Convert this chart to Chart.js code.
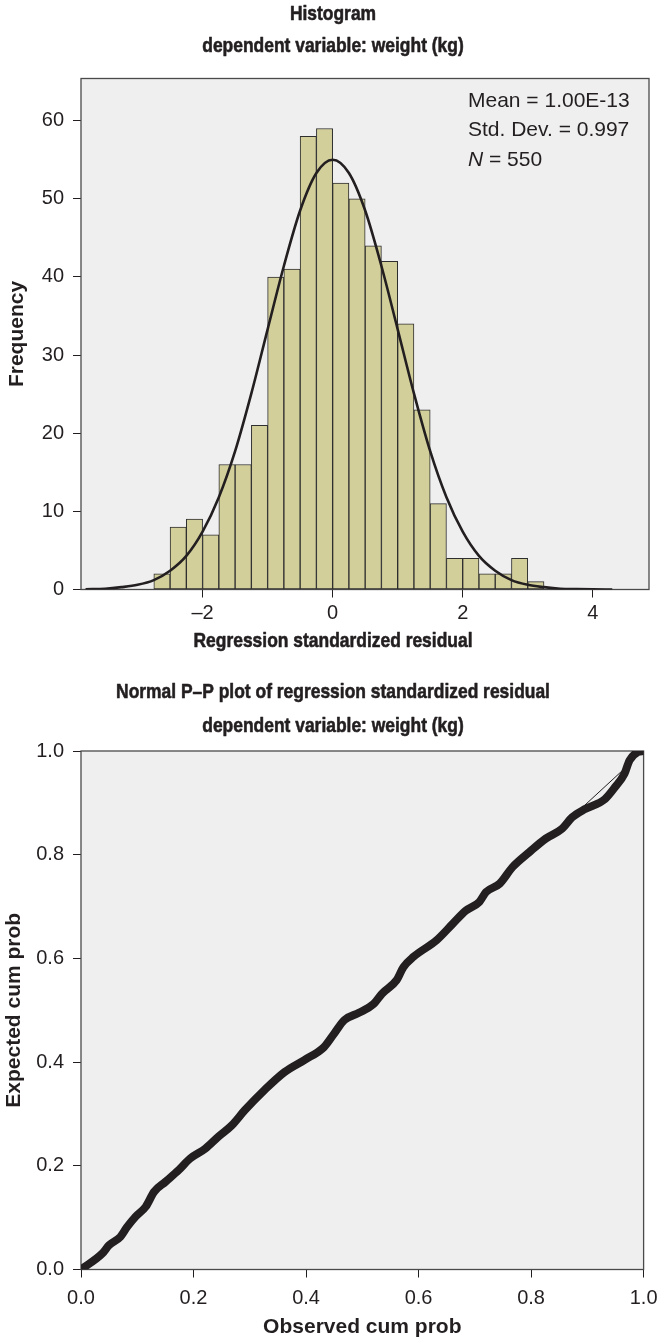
<!DOCTYPE html>
<html>
<head>
<meta charset="utf-8">
<script src="https://cdn.jsdelivr.net/npm/chart.js@4.4.1/dist/chart.umd.min.js"></script>
<style>
  html, body { margin: 0; padding: 0; background: #ffffff; }
  #wrap { position: relative; width: 666px; height: 1341px; }
  canvas { position: absolute; left: 0; }
  #hist { top: 0; }
  #pp { top: 660px; }
</style>
</head>
<body>
<div id="wrap">
  <canvas id="hist" width="666" height="660"></canvas>
  <canvas id="pp" width="666" height="681"></canvas>
</div>
<script>
// ---- Histogram of standardized residuals ----
const binLower = [-2.75, -2.5, -2.25, -2.0, -1.75, -1.5, -1.25, -1.0, -0.75, -0.5, -0.25, 0.0,
                  0.25, 0.5, 0.75, 1.0, 1.25, 1.5, 1.75, 2.0, 2.25, 2.5, 2.75, 3.0];
const binWidth = 0.25;
const frequency = [2, 8, 9, 7, 16, 16, 21, 40, 41, 58, 59, 52,
                   50, 44, 42, 34, 23, 11, 4, 4, 2, 2, 4, 1];

// fitted normal curve (scaled to counts)
const normalX = [-3.8, -3.5, -3.25, -3.0, -2.75, -2.5, -2.25, -2.0, -1.75, -1.5, -1.25, -1.0,
                 -0.75, -0.5, -0.25, 0.0, 0.25, 0.5, 0.75, 1.0, 1.25, 1.5, 1.75, 2.0,
                 2.25, 2.5, 2.75, 3.0, 3.25, 3.5, 3.75, 4.0, 4.3];
const normalY = [0.04, 0.1, 0.3, 0.6, 1.2, 2.4, 4.3, 7.4, 11.8, 17.7, 25.1, 33.3,
                 41.4, 48.5, 53.3, 55.0, 53.3, 48.5, 41.4, 33.3, 25.1, 17.7, 11.8, 7.4,
                 4.3, 2.4, 1.2, 0.6, 0.3, 0.1, 0.05, 0.02, 0.0];

const histXTicks = [-2, 0, 2, 4];
const histYTicks = [0, 10, 20, 30, 40, 50, 60];

const statNames = ['Mean', 'Std. Dev.', 'N'];
const statValues = ['1.00E-13', '0.997', '550'];

const histTitle = ['Histogram', 'dependent variable: weight (kg)'];
const histXTitle = 'Regression standardized residual';

// ---- Normal P-P plot ----
const ppObserved = [0.0, 0.038, 0.05, 0.07, 0.082, 0.097, 0.115, 0.13, 0.15, 0.174, 0.194,
                    0.221, 0.244, 0.268, 0.291, 0.326, 0.362, 0.397, 0.432, 0.45, 0.468,
                    0.494, 0.52, 0.535, 0.561, 0.573, 0.591, 0.632, 0.661, 0.684, 0.708,
                    0.72, 0.744, 0.767, 0.797, 0.826, 0.855, 0.873, 0.896, 0.931, 0.949,
                    0.966, 0.975, 0.99, 1.0];
const ppExpected = [0.0, 0.031, 0.047, 0.063, 0.082, 0.102, 0.121, 0.15, 0.169, 0.192, 0.214,
                    0.233, 0.256, 0.278, 0.307, 0.346, 0.381, 0.404, 0.429, 0.455, 0.481,
                    0.495, 0.512, 0.532, 0.558, 0.583, 0.603, 0.635, 0.667, 0.692, 0.709,
                    0.728, 0.744, 0.776, 0.805, 0.831, 0.85, 0.872, 0.888, 0.907, 0.93,
                    0.956, 0.982, 0.998, 1.0];
// short stretch of the y = x reference line showing beside the curve
const refSegment = [0.865, 0.968];
const ppTicks = [0, 0.2, 0.4, 0.6, 0.8, 1.0];
const ppTitle = ['Normal P\u2013P plot of regression standardized residual', 'dependent variable: weight (kg)'];

// ---- shared styling ----
const ink = '#231f20';
const family = '"Liberation Sans", Arial, Helvetica, sans-serif';
const panelFill = '#efefef';

const plotFrame = {
  id: 'plotFrame',
  beforeDraw(chart) {
    const { ctx, chartArea: a } = chart;
    ctx.save();
    ctx.fillStyle = panelFill;
    ctx.fillRect(a.left, a.top, a.right - a.left, a.bottom - a.top);
    ctx.restore();
  },
  beforeDatasetsDraw(chart) {
    const { ctx, chartArea: a } = chart;
    ctx.save();
    ctx.strokeStyle = '#4a4a4a';
    ctx.lineWidth = 1.3;
    ctx.strokeRect(a.left, a.top, a.right - a.left, a.bottom - a.top);
    ctx.restore();
  }
};

// bold headings set in a horizontally condensed, slightly heavier face
const condensedText = {
  id: 'condensedText',
  afterDraw(chart, args, opts) {
    const ctx = chart.ctx;
    ctx.save();
    ctx.fillStyle = ink;
    ctx.strokeStyle = ink;
    ctx.lineWidth = 0.6;
    ctx.lineJoin = 'round';
    ctx.textAlign = 'center';
    ctx.textBaseline = 'middle';
    ctx.font = 'bold 21px ' + family;
    (opts.items || []).forEach((it) => {
      ctx.save();
      ctx.translate(it.x, it.y);
      ctx.scale(0.83, 1);
      ctx.fillText(it.text, 0, 0);
      ctx.strokeText(it.text, 0, 0);
      ctx.restore();
    });
    ctx.restore();
  }
};

const statsBox = {
  id: 'statsBox',
  afterDatasetsDraw(chart) {
    const { ctx, chartArea: a } = chart;
    ctx.save();
    ctx.fillStyle = ink;
    ctx.textAlign = 'left';
    ctx.textBaseline = 'middle';
    const x = a.right - 181;
    statNames.forEach((name, i) => {
      const y = a.top + 23 + i * 29.2;
      ctx.font = (name === 'N' ? 'italic ' : '') + '21px ' + family;
      ctx.fillText(name, x, y);
      const w = ctx.measureText(name).width;
      ctx.font = '21px ' + family;
      ctx.fillText(' = ' + statValues[i], x + w, y);
    });
    ctx.restore();
  }
};

function fixedTicks(list) {
  return (scale) => { scale.ticks = list.map(v => ({ value: v })); };
}

const tickGrid = { drawOnChartArea: false, drawTicks: true, tickLength: 8, color: ink, lineWidth: 1 };

new Chart(document.getElementById('hist'), {
  type: 'bar',
  data: {
    datasets: [
      {
        type: 'line',
        data: normalX.map((x, i) => ({ x, y: normalY[i] })),
        borderColor: ink,
        borderWidth: 2.6,
        pointRadius: 0,
        cubicInterpolationMode: 'monotone',
        fill: false,
        order: 0
      },
      {
        type: 'bar',
        data: binLower.map((lo, i) => ({ x: lo + binWidth / 2, y: frequency[i] })),
        backgroundColor: '#d3cf9b',
        borderColor: '#2e2e2e',
        borderWidth: 1,
        borderSkipped: false,
        barPercentage: 1,
        categoryPercentage: 1,
        order: 1
      }
    ]
  },
  options: {
    responsive: false,
    animation: false,
    devicePixelRatio: 1,
    layout: { padding: { left: 0, right: 17, top: 78.5, bottom: 0 } },
    plugins: {
      legend: { display: false },
      tooltip: { enabled: false },
      title: { display: false },
      condensedText: {
        items: [
          { text: histTitle[0], x: 333, y: 14 },
          { text: histTitle[1], x: 333, y: 46 },
          { text: histXTitle, x: 333, y: 641 }
        ]
      }
    },
    scales: {
      x: {
        type: 'linear',
        min: -3.87,
        max: 4.865,
        offset: false,
        grid: Object.assign({ offset: false }, tickGrid),
        border: { display: false },
        afterBuildTicks: fixedTicks(histXTicks),
        afterFit: (s) => { s.height = 70.5; },
        ticks: {
          color: ink,
          font: { family, size: 20 },
          padding: 3.5,
          maxRotation: 0,
          callback: (v) => (v < 0 ? '\u2013' + Math.abs(v) : String(v))
        },
        title: { display: false }
      },
      y: {
        type: 'linear',
        min: 0,
        max: 65.4,
        grid: tickGrid,
        border: { display: false },
        afterBuildTicks: fixedTicks(histYTicks),
        afterFit: (s) => { s.width = 81; },
        ticks: { color: ink, font: { family, size: 20 }, padding: 9 },
        title: {
          display: true,
          text: 'Frequency',
          color: ink,
          font: { family, size: 21, weight: 'bold' },
          padding: { top: 4.4, bottom: 0 }
        }
      }
    }
  },
  plugins: [plotFrame, statsBox, condensedText]
});

new Chart(document.getElementById('pp'), {
  type: 'line',
  data: {
    datasets: [
      {
        data: ppObserved.map((x, i) => ({ x, y: ppExpected[i] })),
        borderColor: ink,
        borderWidth: 8,
        borderCapStyle: 'round',
        borderJoinStyle: 'round',
        pointRadius: 0,
        cubicInterpolationMode: 'monotone',
        fill: false,
        order: 0
      },
      {
        data: refSegment.map(v => ({ x: v, y: v })),
        borderColor: ink,
        borderWidth: 1,
        pointRadius: 0,
        fill: false,
        order: 1
      }
    ]
  },
  options: {
    responsive: false,
    animation: false,
    devicePixelRatio: 1,
    layout: { padding: { left: 0, right: 17.5, top: 91, bottom: 0 } },
    plugins: {
      legend: { display: false },
      tooltip: { enabled: false },
      title: { display: false },
      condensedText: {
        items: [
          { text: ppTitle[0], x: 333, y: 32 },
          { text: ppTitle[1], x: 333, y: 66 }
        ]
      }
    },
    scales: {
      x: {
        type: 'linear',
        min: 0,
        max: 1,
        grid: tickGrid,
        border: { display: false },
        afterBuildTicks: fixedTicks(ppTicks),
        afterFit: (s) => { s.height = 71.5; },
        ticks: { color: ink, font: { family, size: 20 }, padding: 8.5, maxRotation: 0, callback: (v) => v.toFixed(1) },
        title: {
          display: true,
          text: 'Observed cum prob',
          color: ink,
          font: { family, size: 21, weight: 'bold' },
          padding: { top: 0, bottom: 1.4 }
        }
      },
      y: {
        type: 'linear',
        min: 0,
        max: 1,
        grid: tickGrid,
        border: { display: false },
        afterBuildTicks: fixedTicks(ppTicks),
        afterFit: (s) => { s.width = 81; },
        ticks: { color: ink, font: { family, size: 20 }, padding: 9, callback: (v) => v.toFixed(1) },
        title: {
          display: true,
          text: 'Expected cum prob',
          color: ink,
          font: { family, size: 21, weight: 'bold' },
          padding: { top: 1.4, bottom: 0 }
        }
      }
    }
  },
  plugins: [plotFrame, condensedText]
});
</script>
</body>
</html>
